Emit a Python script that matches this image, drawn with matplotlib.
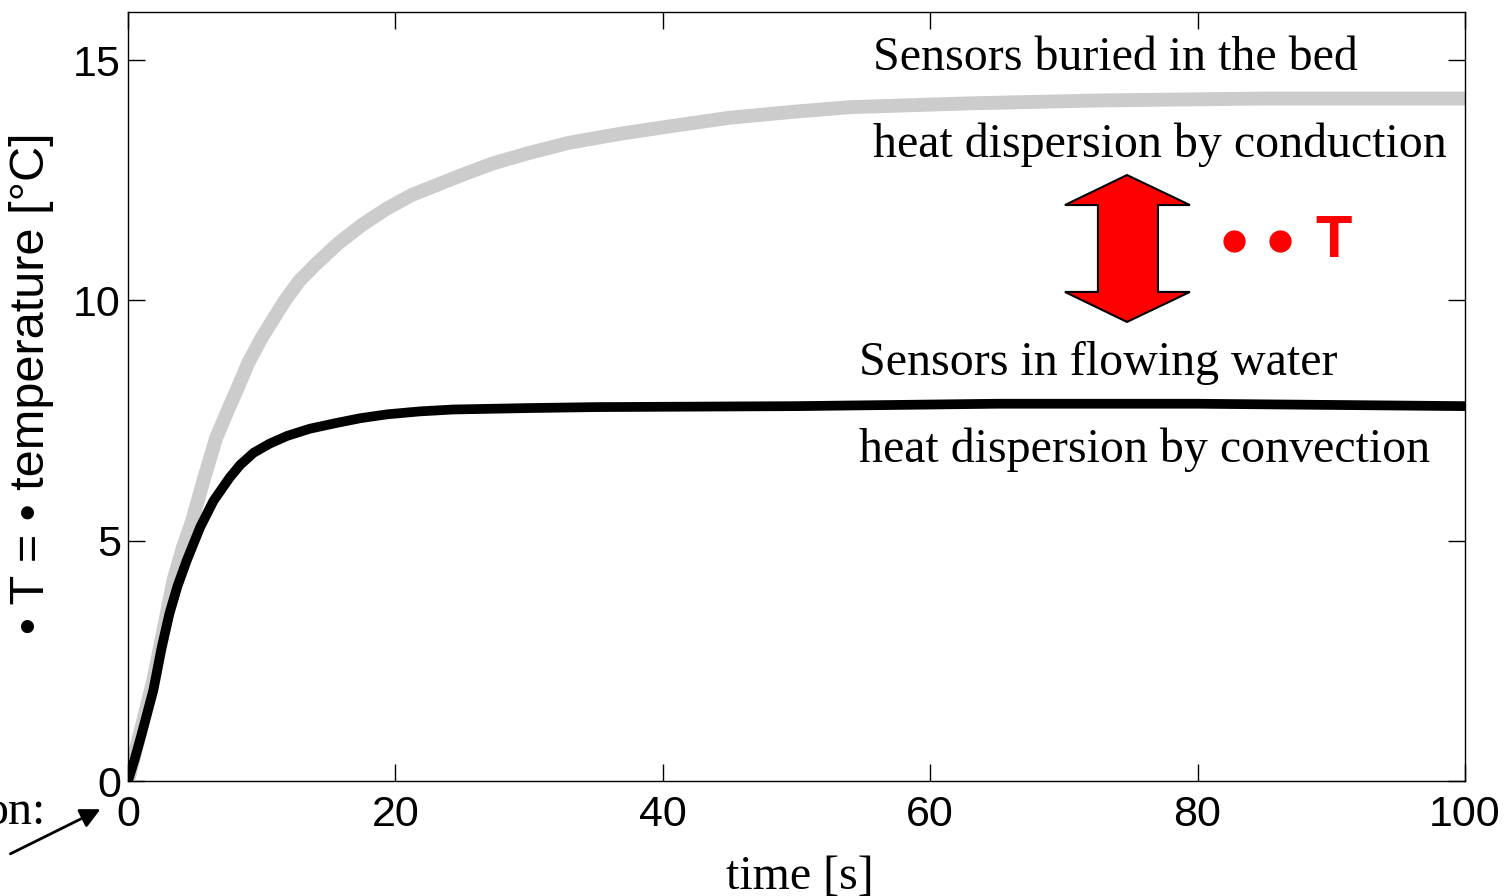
import matplotlib
matplotlib.use("Agg")
import matplotlib.pyplot as plt
import matplotlib.patches as mpatches

# values
time_bed = [0, 0.5, 1.0, 1.9, 2.7, 3.4, 4.1, 4.8, 5.7, 6.6, 7.3, 8.1, 9.0, 10.0,
            11.7, 12.8, 14.0, 15.7, 17.5, 19.3, 21.2, 24.9, 27.3, 29.9, 33.0,
            36.9, 40.5, 45.0, 50.0, 54.0, 63.0, 72.7, 85.0, 100.0]
temp_bed = [0, 0.55, 1.1, 2.1, 3.2, 4.17, 4.85, 5.41, 6.3, 7.14, 7.6, 8.11, 8.7,
            9.22, 9.98, 10.4, 10.74, 11.18, 11.57, 11.9, 12.19, 12.6, 12.85,
            13.06, 13.28, 13.47, 13.62, 13.8, 13.93, 14.02, 14.1, 14.16, 14.2, 14.2]

time_water = [0, 0.5, 1.0, 1.9, 2.5, 3.1, 3.7, 4.4, 5.4, 6.4, 7.6, 8.4, 9.4, 10.6,
              11.9, 13.6, 15.6, 17.4, 19.4, 21.8, 24.3, 30.0, 35.0, 50.0, 65.0,
              80.0, 100.0]
temp_water = [0, 0.45, 0.95, 1.89, 2.75, 3.48, 4.05, 4.59, 5.28, 5.83, 6.31, 6.58,
              6.83, 7.02, 7.18, 7.33, 7.45, 7.55, 7.63, 7.69, 7.73, 7.76, 7.78,
              7.8, 7.85, 7.85, 7.8]

x_ticks = [0, 20, 40, 60, 80, 100]
y_ticks = [0, 5, 10, 15]

SERIF = "Liberation Serif"
SANS = "Liberation Sans"

fig = plt.figure(figsize=(15.07, 8.96), dpi=100)
ax = fig.add_axes([0.0849, 0.1283, 0.8872, 0.8583])

ax.plot(time_bed, temp_bed, color="#cccccc", lw=10, solid_joinstyle="round")
ax.plot(time_water, temp_water, color="black", lw=7, solid_joinstyle="round")

ax.set_xlim(0, 100)
ax.set_ylim(0, 16)
ax.set_xticks(x_ticks)
ax.set_yticks(y_ticks)
ax.tick_params(direction="in", length=12, width=1, top=True, right=True,
               labelsize=31)
ax.tick_params(axis="x", pad=10)
ax.tick_params(axis="y", pad=5)
for lab in ax.get_xticklabels() + ax.get_yticklabels():
    lab.set_family(SANS)
for sp in ax.spines.values():
    sp.set_linewidth(1)

# axis labels
ax.text(-0.0718, 0.5176, "• T = • temperature [°C]", rotation=90, ha="center",
        va="center", fontsize=35, family=SANS, transform=ax.transAxes)
ax.text(0.5026, -0.1404, "time [s]", ha="center", va="baseline", fontsize=34.5,
        family=SERIF, transform=ax.transAxes)
ax.text(-0.0621, -0.0559, "on:", ha="right", va="baseline",
        fontsize=34.5, family=SERIF, transform=ax.transAxes)
ax.annotate("", xy=(-1.87, -0.56), xytext=(-8.98, -1.54),
            arrowprops=dict(arrowstyle="-|>", color="black", lw=2,
                            mutation_scale=30),
            annotation_clip=False)

# descriptions
ax.text(0.5572, 0.9246, "Sensors buried in the bed", fontsize=34.5,
        family=SERIF, va="baseline", transform=ax.transAxes)
ax.text(0.5572, 0.8115, "heat dispersion by conduction", fontsize=34.5,
        family=SERIF, va="baseline", transform=ax.transAxes)
ax.text(0.5468, 0.5280, "Sensors in flowing water", fontsize=34.5,
        family=SERIF, va="baseline", transform=ax.transAxes)
ax.text(0.5468, 0.4148, "heat dispersion by convection", fontsize=34.5,
        family=SERIF, va="baseline", transform=ax.transAxes)

# red double arrow between the two plateaus
arrow_pts = [(0.7472, 0.788), (0.7943, 0.749), (0.7704, 0.749), (0.7704, 0.636),
             (0.7943, 0.636), (0.7472, 0.597), (0.7008, 0.636), (0.7255, 0.636),
             (0.7255, 0.749), (0.7008, 0.749)]
ax.add_patch(mpatches.Polygon(arrow_pts, closed=True, facecolor="red",
                              edgecolor="black", lw=1.5,
                              transform=ax.transAxes, clip_on=False))
ax.plot([0.8272, 0.8616], [0.7022, 0.7022], ls="none", marker="o", ms=15,
        color="red", transform=ax.transAxes, clip_on=False)
ax.text(0.902, 0.7022, "T", color="red", fontsize=43, fontweight="bold",
        family=SANS, ha="center", va="center", transform=ax.transAxes)

fig.savefig("out.png", dpi=100)
